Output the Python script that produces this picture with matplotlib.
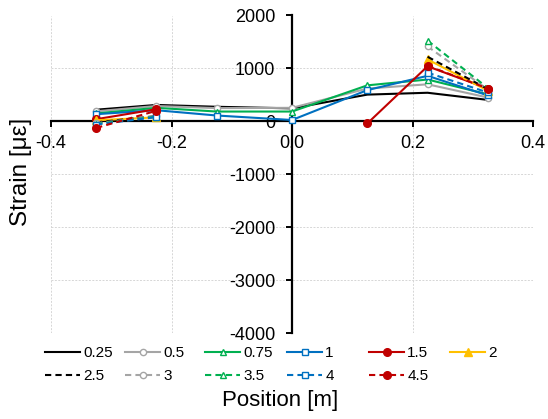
import numpy as np
import matplotlib
matplotlib.use("Agg")
import matplotlib.pyplot as plt
from matplotlib.lines import Line2D

nan = np.nan
positions = [-0.325, -0.225, -0.125, 0.0, 0.125, 0.225, 0.325]

labels = ["0.25", "0.5", "0.75", "1", "1.5", "2", "2.5", "3", "3.5", "4", "4.5"]
s_025 = [220, 310, 275, 245, 505, 540, 405]
s_05 = [190, 290, 250, 255, 620, 700, 450]
s_075 = [150, 255, 185, 185, 680, 790, 510]
s_1 = [135, 210, 110, 25, 590, 860, 490]
s_15 = [40, 230, nan, nan, -40, 1040, 620]
s_2 = [20, 75, nan, nan, nan, 1170, 580]
s_25 = [-20, 100, nan, nan, nan, 1220, 610]
s_3 = [-35, 95, nan, nan, nan, 1415, 600]
s_35 = [-50, 90, nan, nan, nan, 1525, 630]
s_4 = [-60, 80, nan, nan, nan, 920, 545]
s_45 = [-125, 200, nan, nan, nan, 1050, 620]

series = [s_025, s_05, s_075, s_1, s_15, s_2, s_25, s_3, s_35, s_4, s_45]

BLACK = "#000000"
GRAY = "#A5A5A5"
GREEN = "#00B050"
BLUE = "#0070C0"
RED = "#C00000"
GOLD = "#FFC000"

styles = [
    dict(color=BLACK, ls="-", marker=None),
    dict(color=GRAY, ls="-", marker="o", mfc="white"),
    dict(color=GREEN, ls="-", marker="^", mfc="white"),
    dict(color=BLUE, ls="-", marker="s", mfc="white"),
    dict(color=RED, ls="-", marker="o", mfc=RED),
    dict(color=GOLD, ls="-", marker="^", mfc=GOLD),
    dict(color=BLACK, ls=(0, (3, 2)), marker=None),
    dict(color=GRAY, ls=(0, (3, 2)), marker="o", mfc="white"),
    dict(color=GREEN, ls=(0, (3, 2)), marker="^", mfc="white"),
    dict(color=BLUE, ls=(0, (3, 2)), marker="s", mfc="white"),
    dict(color=RED, ls=(0, (3, 2)), marker="o", mfc=RED),
]

plt.rcParams["font.family"] = ["Liberation Sans", "DejaVu Sans"]

W, H = 548, 419
fig = plt.figure(figsize=(W / 100, H / 100), dpi=100)
L, R, T, B = 51, 533, 15.5, 333
ax = fig.add_axes([L / W, 1 - B / H, (R - L) / W, (B - T) / H])

for vals, lab, st in zip(series, labels, styles):
    ms = 5.5 if st.get("mfc") in (RED, GOLD) else 4.5
    ax.plot(positions, vals, color=st["color"], linestyle=st["ls"],
            marker=st["marker"], markerfacecolor=st.get("mfc", st["color"]),
            markeredgecolor=st["color"], markersize=ms, markeredgewidth=1.0,
            linewidth=1.5, label=lab, zorder=3)

ax.set_xlim(-0.4, 0.4)
ax.set_ylim(-4000, 2000)
ax.set_xticks([-0.4, -0.2, 0.0, 0.2, 0.4])
ax.set_xticklabels(["-0.4", "-0.2", "0.0", "0.2", "0.4"])
ax.set_yticks([-4000, -3000, -2000, -1000, 0, 1000, 2000])
ax.set_yticklabels(["-4000", "-3000", "-2000", "-1000", "0", "1000", "2000"])

ax.spines["left"].set_position(("data", 0))
ax.spines["bottom"].set_position(("data", 0))
ax.spines["top"].set_visible(False)
ax.spines["right"].set_visible(False)
for s in ("left", "bottom"):
    ax.spines[s].set_linewidth(1.6)
    ax.spines[s].set_color("black")
    ax.spines[s].set_zorder(2.5)

ax.tick_params(axis="both", direction="out", length=4, width=1.4, labelsize=13,
               colors="black")
ax.tick_params(axis="y", pad=8)
ax.tick_params(axis="x", pad=6)
ax.grid(True, color="#D6D6D6", linestyle=(0, (2, 1.5)), linewidth=0.7, zorder=0)
ax.set_axisbelow(True)

fig.text(21 / W, 1 - 172 / H, "Strain [με]", rotation=90, ha="center", va="center",
         fontsize=17.5)
fig.text(280 / W, 1 - 400 / H, "Position [m]", ha="center", va="center", fontsize=16)

# legend: 6 columns of equal width, two rows
col_x = [45, 125, 205, 287, 369, 450]
groups = [[0, 6], [1, 7], [2, 8], [3, 9], [4, 10], [5]]
for cx, g in zip(col_x, groups):
    hs = []
    for i in g:
        st = styles[i]
        ms = 5.5 if st.get("mfc") in (RED, GOLD) else 4.5
        hs.append(Line2D([], [], color=st["color"], linestyle=st["ls"], marker=st["marker"],
                         markerfacecolor=st.get("mfc", st["color"]),
                         markeredgecolor=st["color"], markersize=ms,
                         markeredgewidth=1.0, linewidth=1.5))
    fig.legend(hs, [labels[i] for i in g], loc="upper left",
               bbox_to_anchor=(cx / W, 1 - 346 / H), frameon=False,
               borderpad=0, borderaxespad=0, handlelength=2.3,
               handletextpad=0.2, labelspacing=0.6, fontsize=11,
               numpoints=1)

fig.savefig("out.png", dpi=100)
